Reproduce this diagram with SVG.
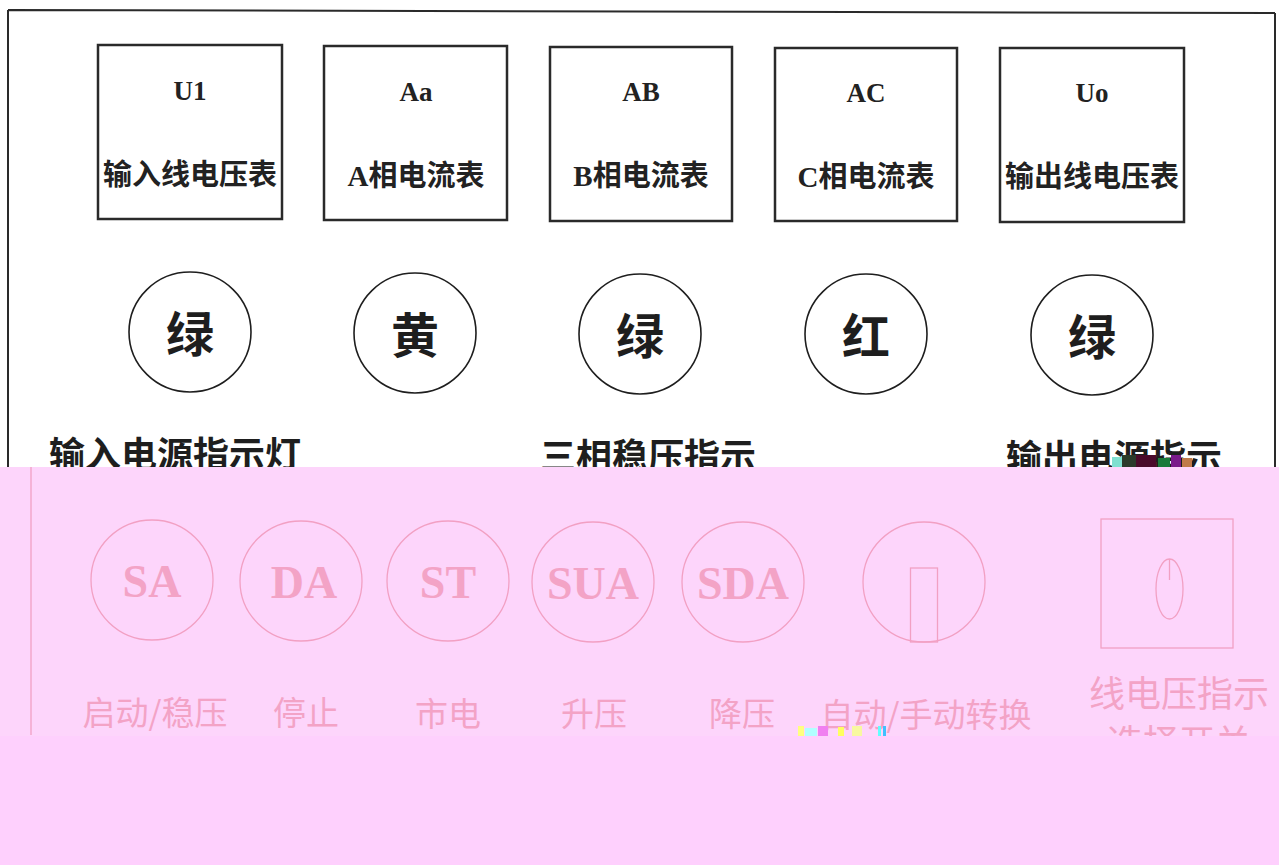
<svg xmlns="http://www.w3.org/2000/svg" width="1279" height="865" viewBox="0 0 1279 865">
<defs>
<style>
.frame{fill:none;stroke:#2a2a2a;stroke-width:2}
.box{fill:#fff;stroke:#2a2a2a;stroke-width:2.5}
.lamp{fill:none;stroke:#1e1e1e;stroke-width:1.6}
.code{font-family:"Liberation Serif","Noto Sans CJK SC",serif;font-weight:bold;font-size:27px;fill:#222;text-anchor:middle}
.cn{font-family:"Liberation Serif","Noto Sans CJK SC",serif;font-weight:bold;font-size:29px;fill:#222;text-anchor:middle}
.big{font-family:"Noto Sans CJK SC",sans-serif;font-weight:bold;font-size:48px;fill:#1e1e1e;text-anchor:middle}
.lbl{font-family:"Noto Sans CJK SC",sans-serif;font-weight:bold;font-size:36px;fill:#1e1e1e}
.pk{fill:none;stroke:#F2A0C3;stroke-width:1.3}
.pkcode{font-family:"Liberation Serif",serif;font-weight:bold;font-size:46px;fill:#F3A3C6;text-anchor:middle}
.pktxt{font-family:"Noto Sans CJK SC",sans-serif;font-size:33px;fill:#F3A3C6;text-anchor:middle}
</style>
</defs>
<rect x="0" y="0" width="1279" height="865" fill="#ffffff"/>
<g id="frame">
<path class="frame" d="M8 10 L1275 13 M8 10 L8 467 M1275 13 L1275 467"/>
</g>
<g id="meter-U1"><rect class="box" x="98" y="45" width="184" height="174"/><text class="code" x="190" y="100">U1</text><text class="cn" x="190" y="185">输入线电压表</text></g>
<g id="meter-Aa"><rect class="box" x="324" y="46" width="183" height="174"/><text class="code" x="416" y="101">Aa</text><text class="cn" x="416" y="186">A相电流表</text></g>
<g id="meter-AB"><rect class="box" x="550" y="47" width="182" height="174"/><text class="code" x="641" y="101">AB</text><text class="cn" x="641" y="186">B相电流表</text></g>
<g id="meter-AC"><rect class="box" x="775" y="48" width="182" height="173"/><text class="code" x="866" y="102">AC</text><text class="cn" x="866" y="187">C相电流表</text></g>
<g id="meter-Uo"><rect class="box" x="1000" y="48" width="184" height="174"/><text class="code" x="1092" y="102">Uo</text><text class="cn" x="1092" y="187">输出线电压表</text></g>
<g id="lamp-1"><ellipse class="lamp" cx="190" cy="332" rx="61" ry="60"/><text class="big" x="190" y="352">绿</text></g>
<g id="lamp-2"><ellipse class="lamp" cx="415" cy="333" rx="61" ry="60"/><text class="big" x="415" y="353">黄</text></g>
<g id="lamp-3"><ellipse class="lamp" cx="640" cy="334" rx="61" ry="60"/><text class="big" x="640" y="354">绿</text></g>
<g id="lamp-4"><ellipse class="lamp" cx="866" cy="334" rx="61" ry="60"/><text class="big" x="866" y="354">红</text></g>
<g id="lamp-5"><ellipse class="lamp" cx="1092" cy="335" rx="61" ry="60"/><text class="big" x="1092" y="355">绿</text></g>
<g id="labels-top">
<text class="lbl" x="49" y="468">输入电源指示灯</text>
<text class="lbl" x="540" y="470">三相稳压指示</text>
<text class="lbl" x="1006" y="471">输出电源指示</text>
</g>
<g id="connectors"/>
<rect x="0" y="467" width="1279" height="269" fill="#FDD5FB"/>
<g id="scan-artifacts-1">
<rect x="1112" y="457" width="10" height="10" fill="#7fe0d0"/>
<rect x="1122" y="455" width="14" height="12" fill="#2a3a2a"/>
<rect x="1136" y="455" width="20" height="12" fill="#4a0a2a"/>
<rect x="1158" y="458" width="12" height="9" fill="#1a7a3a"/>
<rect x="1171" y="455" width="10" height="12" fill="#7a1a8a"/>
<rect x="1182" y="458" width="10" height="9" fill="#c07a4a"/>
</g>
<path class="pk" d="M31 467 L31 735"/>
<g id="btn-SA"><ellipse class="pk" cx="152" cy="580" rx="61" ry="60"/><text class="pkcode" x="152" y="597">SA</text><text class="pktxt" x="155" y="725">启动/稳压</text></g>
<g id="btn-DA"><ellipse class="pk" cx="301" cy="581" rx="61" ry="60"/><text class="pkcode" x="304" y="598">DA</text><text class="pktxt" x="306" y="725">停止</text></g>
<g id="btn-ST"><ellipse class="pk" cx="448" cy="581" rx="61" ry="60"/><text class="pkcode" x="448" y="598">ST</text><text class="pktxt" x="448" y="726">市电</text></g>
<g id="btn-SUA"><ellipse class="pk" cx="593" cy="582" rx="61" ry="60"/><text class="pkcode" x="593" y="599">SUA</text><text class="pktxt" x="594" y="726">升压</text></g>
<g id="btn-SDA"><ellipse class="pk" cx="743" cy="582" rx="61" ry="60"/><text class="pkcode" x="743" y="599">SDA</text><text class="pktxt" x="742" y="726">降压</text></g>
<g id="switch-auto"><ellipse class="pk" cx="924" cy="582" rx="61" ry="60"/><rect class="pk" x="910.5" y="568" width="27" height="74"/><text class="pktxt" x="926" y="727">自动/手动转换</text></g>
<g id="switch-select"><rect class="pk" x="1101" y="519" width="132" height="129"/><ellipse class="pk" cx="1169.5" cy="589" rx="13.5" ry="30"/><path class="pk" d="M1169.5 559 L1169.5 580"/><text class="pktxt" x="1179" y="707" style="font-size:36px">线电压指示</text><text class="pktxt" x="1179" y="756" style="font-size:36px">选择开关</text></g>
<rect x="0" y="736" width="1279" height="129" fill="#FED0FD"/>
<g id="scan-artifacts-2">
<rect x="798" y="726" width="6" height="10" fill="#ffff80"/>
<rect x="805" y="728" width="12" height="8" fill="#b0ffff"/>
<rect x="818" y="726" width="10" height="10" fill="#f080f0"/>
<rect x="838" y="727" width="6" height="9" fill="#ffff60"/>
<rect x="852" y="726" width="10" height="10" fill="#f8f8a0"/>
<rect x="878" y="726" width="3" height="10" fill="#60ffff"/>
<rect x="883" y="726" width="3" height="10" fill="#40c0ff"/>
</g>
</svg>
